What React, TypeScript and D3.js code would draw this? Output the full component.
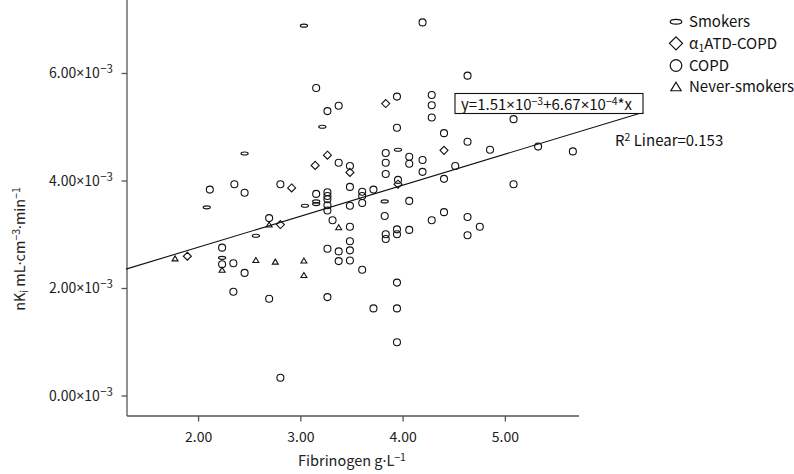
import React from 'react';
import * as d3 from 'd3';

// values of nK_i are in units of 10^-3 mL·cm^-3·min^-1
const xTicks = [2, 3, 4, 5];
const yTicks = [0, 2, 4, 6];
const xTickLabels = ['2.00', '3.00', '4.00', '5.00'];
const yTickLabels = ['0.00', '2.00', '4.00', '6.00'];

const smokers: [number, number][] = [
  [3.03, 6.89], [3.21, 5.01], [2.45, 4.51], [3.95, 4.58], [2.08, 3.51], [3.04, 3.54],
  [3.15, 3.62], [3.15, 3.57], [2.56, 2.98], [2.23, 2.57], [3.82, 3.62],
];

const atdCopd: [number, number][] = [
  [3.26, 4.48], [3.14, 4.29], [3.48, 4.16], [2.91, 3.87], [3.83, 5.44], [4.40, 4.57],
  [3.95, 3.94], [2.80, 3.19], [1.89, 2.6],
];

const neverSmokers: [number, number][] = [
  [1.77, 2.56], [2.23, 2.35], [2.56, 2.53], [2.75, 2.5], [3.03, 2.52], [3.03, 2.25],
  [2.69, 3.19], [3.37, 3.14],
];

const copd: [number, number][] = [
  [3.15, 5.73], [3.26, 5.30], [3.37, 5.40], [3.37, 4.34], [3.48, 4.28], [2.11, 3.84],
  [2.35, 3.94], [2.45, 3.78], [2.80, 3.94], [3.48, 3.89], [3.60, 3.80], [3.60, 3.72],
  [3.60, 3.59], [3.15, 3.76], [3.26, 3.79], [3.26, 3.72], [3.26, 3.66], [3.26, 3.55],
  [3.26, 3.45], [4.19, 6.95], [4.63, 5.96], [3.94, 5.57], [4.28, 5.60], [4.28, 5.41],
  [4.28, 5.18], [3.94, 4.99], [5.08, 5.15], [4.40, 4.89], [4.63, 4.73], [4.85, 4.58],
  [5.32, 4.64], [5.66, 4.55], [3.83, 4.52], [3.83, 4.34], [3.83, 4.13], [4.06, 4.45],
  [4.06, 4.32], [4.19, 4.39], [4.19, 4.17], [4.51, 4.28], [4.40, 4.04], [5.08, 3.94],
  [3.95, 4.02], [3.71, 3.84], [3.48, 3.54], [4.06, 3.63], [3.82, 3.35], [4.28, 3.27],
  [4.40, 3.42], [4.63, 3.33], [4.75, 3.15], [4.63, 2.99], [2.69, 3.31], [3.31, 3.27],
  [3.48, 3.15], [3.83, 3.01], [3.83, 2.92], [3.94, 3.10], [3.94, 3.01], [4.06, 3.09],
  [3.48, 2.88], [3.26, 2.74], [3.37, 2.69], [3.48, 2.71], [3.37, 2.51], [3.48, 2.52],
  [3.60, 2.35], [2.23, 2.76], [2.23, 2.45], [2.34, 2.47], [2.45, 2.29], [3.94, 2.11],
  [2.34, 1.94], [2.69, 1.81], [3.26, 1.84], [3.71, 1.63], [3.94, 1.63], [3.94, 1.00],
  [2.80, 0.34],
];

// fitted line as drawn (endpoints)
const fitX = [1.29, 6.35];
const fitY = [2.36, 5.28];

const W = 794;
const H = 474;
const FONT = "'Noto Sans CJK SC', 'Noto Sans', sans-serif";
const LATIN = "'Noto Sans', 'DejaVu Sans', sans-serif";

const Times = () => <tspan fontFamily={LATIN}>×</tspan>;
const Dot = () => <tspan fontFamily={LATIN}>·</tspan>;

export default function App() {
  const x = d3.scaleLinear().domain([1.3, 5.72]).range([127, 579]);
  const y = d3.scaleLinear().domain([-0.372, 7.367]).range([416, 0]);
  const line = d3.line<[number, number]>().x((d) => x(d[0])).y((d) => y(d[1]));
  const fit: [number, number][] = fitX.map((v, i) => [v, fitY[i]]);

  const diamond = (cx: number, cy: number, r: number) =>
    `M${cx},${cy - r}L${cx + r},${cy}L${cx},${cy + r}L${cx - r},${cy}Z`;
  const triangle = (cx: number, cy: number, w: number, h: number) =>
    `M${cx},${cy - h / 2}L${cx + w / 2},${cy + h / 2}L${cx - w / 2},${cy + h / 2}Z`;

  const sw = 1.1;
  const axisColor = '#555';

  const legendX = 676;
  const legendTextX = 689;
  const legendRows = [21.7, 43.3, 65.5, 86.5];

  return (
    <svg width={W} height={H} style={{ position: 'absolute', left: 0, top: 0, background: '#fff' }}
      fontFamily={FONT}>
      <rect x={0} y={0} width={W} height={H} fill="#fff" />
      {/* axes */}
      <line x1={127} y1={0} x2={127} y2={416} stroke={axisColor} strokeWidth={1.3} />
      <line x1={127} y1={416} x2={579} y2={416} stroke={axisColor} strokeWidth={1.3} />
      {yTicks.map((t, i) => (
        <g key={'yt' + i}>
          <line x1={121.5} x2={127} y1={y(t)} y2={y(t)} stroke={axisColor} strokeWidth={1.3} />
          <text x={113} y={y(t) + 5} textAnchor="end" fontSize={14} fill="#222">
            {yTickLabels[i]}<Times />10<tspan dy={-5} dx={0.5} fontSize={11.5}>−3</tspan>
          </text>
        </g>
      ))}
      {xTicks.map((t, i) => (
        <g key={'xt' + i}>
          <line x1={x(t)} x2={x(t)} y1={416} y2={421.5} stroke={axisColor} strokeWidth={1.3} />
          <text x={x(t)} y={442} textAnchor="middle" fontSize={14} fill="#222">
            {xTickLabels[i]}
          </text>
        </g>
      ))}
      <text x={352} y={466} textAnchor="middle" fontSize={14.5} fill="#222">
        Fibrinogen g<Dot />L<tspan dy={-5} fontSize={10.5}>−1</tspan>
      </text>
      <g transform="translate(25,249) rotate(-90)">
        <text x={0} y={0} textAnchor="middle" fontSize={14.5} fill="#222">
          nK<tspan dy={3} fontSize={10}>i</tspan>
          <tspan dy={-3}> mL</tspan><Dot />cm
          <tspan dy={-5} fontSize={10.5}>−3</tspan>
          <tspan dy={5}><Dot />min</tspan>
          <tspan dy={-5} fontSize={10.5}>−1</tspan>
        </text>
      </g>

      {/* fit line */}
      <path d={line(fit) || ''} fill="none" stroke="#111" strokeWidth={1.1} />

      {/* points */}
      {copd.map((d, i) => (
        <circle key={'c' + i} cx={x(d[0])} cy={y(d[1])} r={3.5} fill="none" stroke="#111" strokeWidth={sw} />
      ))}
      {smokers.map((d, i) => (
        <ellipse key={'s' + i} cx={x(d[0])} cy={y(d[1])} rx={3.6} ry={1.5} fill="none" stroke="#111" strokeWidth={sw} />
      ))}
      {atdCopd.map((d, i) => (
        <path key={'a' + i} d={diamond(x(d[0]), y(d[1]), 4)} fill="none" stroke="#111" strokeWidth={sw} />
      ))}
      {neverSmokers.map((d, i) => (
        <path key={'n' + i} d={triangle(x(d[0]), y(d[1]), 6, 5)} fill="none" stroke="#111" strokeWidth={sw} />
      ))}

      {/* equation box */}
      <rect x={455} y={93.5} width={188} height={20} fill="#fff" stroke="#111" strokeWidth={1.1} />
      <text x={461} y={109.5} fontSize={15} fill="#111">
        y=1.51<Times />10<tspan dy={-5} fontSize={10.5}>−3</tspan>
        <tspan dy={5}>+6.67</tspan><Times />10
        <tspan dy={-5} fontSize={10.5}>−4</tspan>
        <tspan dy={5}>*x</tspan>
      </text>
      <text x={615} y={146} fontSize={15} fill="#111">
        R<tspan dy={-5} fontSize={10.5}>2</tspan>
        <tspan dy={5}> Linear=0.153</tspan>
      </text>

      {/* legend */}
      <ellipse cx={legendX} cy={legendRows[0]} rx={5.8} ry={2.4} fill="none" stroke="#111" strokeWidth={1.2} />
      <text x={legendTextX} y={legendRows[0] + 5.3} fontSize={15} fill="#111">Smokers</text>
      <path d={diamond(legendX, legendRows[1], 6.5)} fill="none" stroke="#111" strokeWidth={1.2} />
      <text x={legendTextX} y={legendRows[1] + 5.3} fontSize={15} fill="#111">
        α<tspan dy={3} fontSize={10.5}>1</tspan>
        <tspan dy={-3}>ATD-COPD</tspan>
      </text>
      <circle cx={legendX} cy={legendRows[2]} r={5.8} fill="none" stroke="#111" strokeWidth={1.2} />
      <text x={legendTextX} y={legendRows[2] + 5.3} fontSize={15} fill="#111">COPD</text>
      <path d={triangle(legendX, legendRows[3], 10.3, 8.5)} fill="none" stroke="#111" strokeWidth={1.2} />
      <text x={legendTextX} y={legendRows[3] + 5.3} fontSize={15} fill="#111">Never-smokers</text>
    </svg>
  );
}
